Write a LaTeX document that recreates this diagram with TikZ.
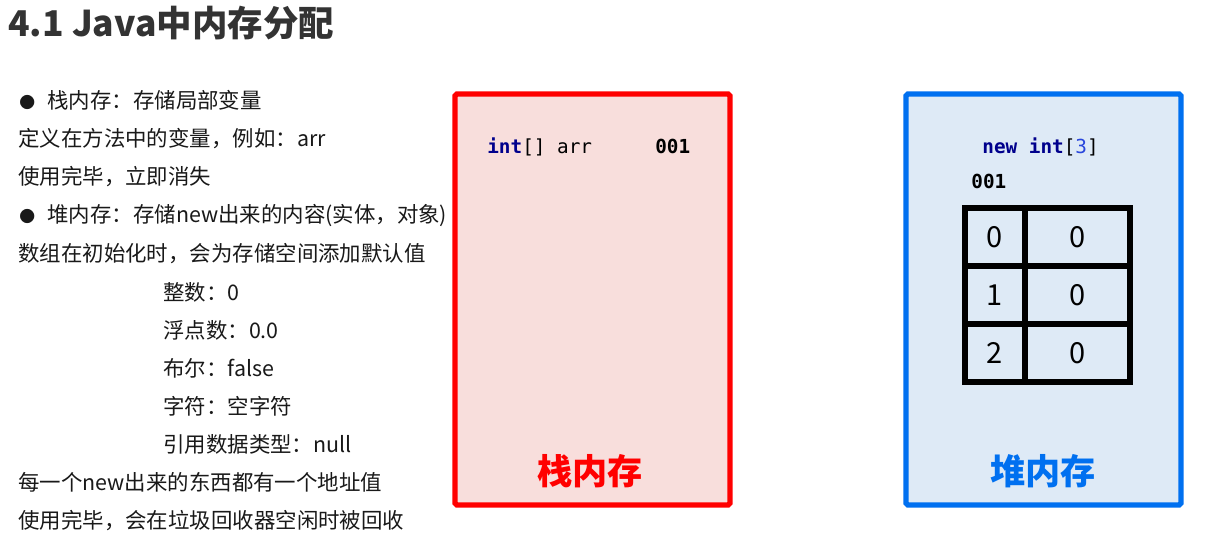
\documentclass[tikz,border=0pt]{standalone}
\usepackage{fontspec}
\setmainfont{Noto Sans CJK SC}
\setmonofont{DejaVu Sans Mono}
\usetikzlibrary{positioning}

\definecolor{titlegray}{RGB}{51,51,51}
\definecolor{textblack}{RGB}{25,25,25}
\definecolor{stackred}{RGB}{255,0,0}
\definecolor{stackfill}{RGB}{248,222,220}
\definecolor{heapblue}{RGB}{0,112,240}
\definecolor{heapfill}{RGB}{222,234,246}
\definecolor{kwnavy}{RGB}{0,0,140}
\definecolor{numblue}{RGB}{40,70,220}

\tikzset{
	line/.style={anchor=base west, inner sep=0pt, text=textblack, font=\fontsize{12.2}{14}\selectfont},
	membox/.style={rectangle, rounded corners=1pt, line width=3pt, minimum width=5.5cm, minimum height=8.22cm},
	memlabel/.style={font=\fontsize{20}{22}\selectfont\bfseries},
	code/.style={anchor=base west, inner sep=0pt, font=\fontsize{11}{13}\selectfont\ttfamily},
	cell/.style={draw=black, line width=3pt, minimum height=1.16cm, inner sep=0pt, font=\fontsize{16.5}{18}\selectfont}
}
\newcommand{\bul}{{\fontsize{9}{9}\selectfont ●}\hspace{7pt}}

\begin{document}
\begin{tikzpicture}[x=0.02cm, y=-0.02cm]
	\useasboundingbox (0,0) rectangle (1212,560);
	\fill[white] (0,0) rectangle (1212,560);

	\node[anchor=base west, inner sep=0pt, text=titlegray, font=\fontsize{20.2}{24}\selectfont\bfseries] (title) at (8,37) {4.1 Java中内存分配};

	% left column
	\node[line] (l1) at (19,109) {\bul 栈内存：存储局部变量};
	\node[line] (l2) at (18,147) {定义在方法中的变量，例如：arr};
	\node[line] (l3) at (18,185) {使用完毕，立即消失};
	\node[line] (l4) at (19,223) {\bul 堆内存：存储new出来的内容(实体，对象)};
	\node[line] (l5) at (18,261) {数组在初始化时，会为存储空间添加默认值};
	\node[line] (l6) at (163,300) {整数：0};
	\node[line] (l7) at (163,338) {浮点数：0.0};
	\node[line] (l8) at (163,376) {布尔：false};
	\node[line] (l9) at (163,414) {字符：空字符};
	\node[line] (l10) at (163,452) {引用数据类型：null};
	\node[line] (l11) at (18,490) {每一个new出来的东西都有一个地址值};
	\node[line] (l12) at (18,528) {使用完毕，会在垃圾回收器空闲时被回收};

	% stack
	\node[membox, draw=stackred, fill=stackfill] (stack) at (592.5,299.5) {};
	\node[code] (arr) at (487,154) {\textbf{\textcolor{kwnavy}{int}}[] arr};
	\node[code] (addr1) at (655,154) {\textbf{001}};
	\node[memlabel, text=stackred] (stacklbl) at (590,471) {栈内存};

	% heap
	\node[membox, draw=heapblue, fill=heapfill] (heap) at (1043.5,299.5) {};
	\node[code] (newarr) at (982,154) {\textbf{\textcolor{kwnavy}{new int}}[\textcolor{numblue}{3}]};
	\node[code] (addr2) at (971,189) {\textbf{001}};
	\foreach \i/\y in {0/237,1/295,2/353} {
		\node[cell, minimum width=1.2cm] (idx\i) at (995,\y) {\i};
		\node[cell, minimum width=2.1cm] (val\i) at (1077.5,\y) {0};
	}
	\node[memlabel, text=heapblue] (heaplbl) at (1043,471) {堆内存};
\end{tikzpicture}
\end{document}
